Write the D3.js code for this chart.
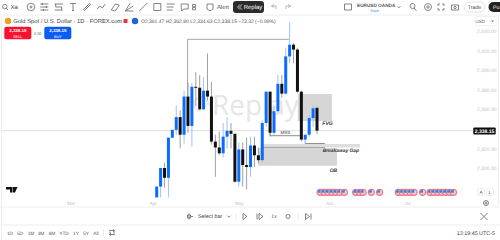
<!DOCTYPE html>
<html>
<head>
<meta charset="utf-8">
<script src="https://cdn.jsdelivr.net/npm/d3@7/dist/d3.min.js"></script>
<style>
html,body{margin:0;padding:0;background:#fff;overflow:hidden}
svg{display:block;font-family:"Liberation Sans",Arial,sans-serif;text-rendering:geometricPrecision}
</style>
</head>
<body>
<svg id="c" width="500" height="240"></svg>
<script>
// Daily gold spot bars
const opens  = [2270,2281,2300,2290,2331,2339,2352,2334,2373,2343,2383,2382,2360,2379,2373,2327,2321,2315,2332,2338,2335,2286,2319,2303,2301,2323,2313,2308,2346,2378,2336,2358,2386,2376,2414,2426,2421,2378,2329,2334,2351,2361.47];
const highs  = [2281,2300,2305,2331,2339,2364,2359,2379,2387,2387,2398,2395,2393,2417,2388,2334,2337,2346,2352,2346,2335,2326,2326,2331,2332,2332,2321,2349,2378,2378,2364,2395,2395,2423,2449,2428,2423,2379,2334,2354,2364,2362.80];
const lows   = [2270,2270,2280,2270,2331,2334,2320,2325,2336,2322,2363,2359,2359,2369,2324,2291,2313,2311,2320,2320,2285,2281,2281,2278,2291,2301,2305,2305,2342,2332,2334,2356,2372,2375,2407,2407,2377,2327,2325,2332,2342,2334.63];
const closes = [2281,2300,2290,2331,2339,2352,2334,2373,2343,2383,2382,2360,2379,2373,2327,2321,2315,2332,2338,2335,2286,2319,2303,2301,2323,2313,2308,2346,2378,2336,2358,2386,2376,2414,2426,2421,2378,2329,2334,2351,2361,2338.15];

const priceTicks = [2300,2320,2360,2380,2400,2420,2440];
const monthNames = ["Mar","Apr","May","Jun","Jul"];
const monthBars  = [-22,-1,21,44,64];
const eventBars  = [41.8,42.8,43.8,44.8,45.8,46.8,48,50.9,51.9,52.8,54.9,57,61.8,62.8,63.8,64.8,65.8,68,69.9,70.9,71.9,72.9,73.9,74.9,75.9];
const rangeLabels = ["1D","5D","1M","3M","6M","YTD","1Y","5Y","All"];

const svg = d3.select("#c");
const x = d3.scaleLinear().domain([0,41]).range([156.7,317]);
const y = d3.scaleLinear().domain([2300,2440]).range([168,31]);
const BLUE = "#0c6bff", BLACK = "#111", MUTED = "#bdbdbd";

// Zones beneath the bars: FVG, order block, breakaway gap
const zones = [
  {from:36.1,to:44.8,top:2375.6,bottom:2348,fill:"#d6d6d6"},
  {from:25.9,to:46.1,top:2320.4,bottom:2302.3,fill:"#d6d6d6"},
  {from:27,to:52,top:2324.5,bottom:2321,fill:"#dedede"}
];
svg.append("g").selectAll("rect").data(zones).join("rect")
  .attr("x",d=>x(d.from)).attr("width",d=>x(d.to)-x(d.from))
  .attr("y",d=>y(d.top)).attr("height",d=>y(d.bottom)-y(d.top))
  .attr("fill",d=>d.fill);

// Last-price line
svg.append("line").attr("x1",2).attr("x2",473).attr("y1",y(2338.15)).attr("y2",y(2338.15))
  .attr("stroke","#dedede").attr("stroke-width",1);

// Watermark
svg.append("path").attr("d","M201,111A7,7 0 1 1 208,105").attr("fill","none").attr("stroke","#ececec").attr("stroke-width",2);
svg.append("text").attr("x",212).attr("y",115).attr("font-size",28).attr("fill","#e6e6e6")
  .attr("font-family","'Open Sans',sans-serif").text("Replay");

// Structure lines
const levelPath = d3.line();
const structure = [
  {pts:[[7.9,2373],[7.9,2431.5],[33.9,2431.5]],c:"#a6a6a6"},
  {pts:[[29,2340],[29,2333],[37,2333]],c:"#8c8c8c"},
  {pts:[[38,2327],[38,2325],[43,2325]],c:"#8c8c8c"},
  {pts:[[27,2321],[43,2321]],c:"#a2a2a2"}
];
svg.append("g").selectAll("path").data(structure).join("path")
  .attr("fill","none").attr("stroke",d=>d.c).attr("stroke-width",1)
  .attr("d",d=>levelPath(d.pts.map(p=>[x(p[0]),y(p[1])])));

// Candles
const bars = d3.range(opens.length);
const colour = i => closes[i] >= opens[i] ? BLUE : BLACK;
const wickColour = i => closes[i] >= opens[i] ? "#9cc3ff" : "#a0a0a0";
const g = svg.append("g");
g.selectAll("line").data(bars).join("line")
  .attr("x1",x).attr("x2",x)
  .attr("y1",i=>y(highs[i])).attr("y2",i=>y(lows[i]))
  .attr("stroke",wickColour).attr("stroke-width",1);
g.selectAll("rect").data(bars).join("rect")
  .attr("x",i=>x(i)-1.5).attr("width",3)
  .attr("y",i=>y(Math.max(opens[i],closes[i])))
  .attr("height",i=>Math.max(1,Math.abs(y(opens[i])-y(closes[i]))))
  .attr("fill",colour);

// Annotations
const notes = [
  {t:"MSS",bar:32.9,p:2335,fs:4.5,w:"normal",s:"normal",c:"#444"},
  {t:"FVG",bar:43.7,p:2343.5,fs:5.2,w:"bold",s:"italic",c:"#333"},
  {t:"Breakaway Gap",bar:47.1,p:2316,fs:4.9,w:"bold",s:"italic",c:"#333"},
  {t:"OB",bar:45.2,p:2296,fs:5,w:"bold",s:"italic",c:"#333"}
];
svg.append("g").selectAll("text").data(notes).join("text")
  .attr("x",d=>x(d.bar)).attr("y",d=>y(d.p)).attr("text-anchor","middle")
  .attr("font-size",d=>d.fs).attr("font-weight",d=>d.w).attr("font-style",d=>d.s).attr("fill",d=>d.c)
  .text(d=>d.t);

// Price axis
const axisY = d3.axisRight(y).tickValues(priceTicks).tickSize(0).tickFormat(d3.format(",.2f"));
const ay = svg.append("g").attr("transform","translate(477,0)").call(axisY);
ay.select(".domain").remove();
ay.selectAll("text").attr("font-size",5).attr("fill",MUTED).attr("x",0).attr("dy","0.32em").attr("font-family","'Liberation Sans',sans-serif");
svg.append("line").attr("x1",498.5).attr("x2",498.5).attr("y1",16).attr("y2",205).attr("stroke","#eee");
svg.append("rect").attr("x",473.3).attr("y",127.5).attr("width",22.4).attr("height",7).attr("fill","#0e0e0e").attr("rx",1);
svg.append("text").attr("x",484.5).attr("y",132.8).attr("text-anchor","middle").attr("font-size",5).attr("font-weight","bold").attr("fill","#fff").text("2,338.15");
svg.append("text").attr("x",480).attr("y",23).attr("text-anchor","middle").attr("font-size",4.6).attr("fill","#666").text("USD");
svg.append("path").attr("d","M491,20.5h3l-1.5,1.8z").attr("fill","#777");
svg.append("rect").attr("x",475).attr("y",16.5).attr("width",22).attr("height",9).attr("rx",2).attr("fill","none").attr("stroke","#f0f0f0");

// Time axis
const timeAxis = d3.axisBottom(x).tickValues(monthBars).tickSize(0).tickFormat((d,i)=>monthNames[i]);
const at = svg.append("g").attr("transform","translate(0,198)").call(timeAxis);
at.select(".domain").remove();
at.selectAll("text").attr("font-size",4.6).attr("fill",MUTED).attr("dy",0).attr("y",6.5);

// Economic event markers
const ev = svg.append("g").selectAll("g").data(eventBars).join("g")
  .attr("transform",d=>`translate(${x(d)},192.3)`);
ev.append("circle").attr("r",3.6).attr("fill","#f2707f");
ev.append("circle").attr("r",2.5).attr("fill","#f6c9cf");
ev.append("path").attr("d","M-2.5,0.4A2.5,2.5 0 0 1 0.4,-2.5L0.4,0.4Z").attr("fill","#2d86e8");

// Top toolbar
svg.append("line").attr("x1",0).attr("x2",500).attr("y1",15).attr("y2",15).attr("stroke","#eee");
const icon = (cx,cy,d,c) => svg.append("path").attr("transform",`translate(${cx},${cy})`).attr("d",d)
  .attr("fill","none").attr("stroke",c||"#666").attr("stroke-width",0.8);
const toolIcons = [
  [31,"M3.8,0A3.8,3.8 0 1 1 -3.8,0A3.8,3.8 0 1 1 3.8,0M1,0A1,1 0 1 1 -1,0A1,1 0 1 1 1,0"],
  [44.3,"M-4,-3H4M-4,0H4M-4,3H4M-2,-4V-2M2,-1V1M-1,2V4"],
  [58.7,"M-4,-3H4M-4,3H4M-3,-3V0H3V3"],
  [73,"M-3,-3.5H3M0,-3.5V3.5M-1,3.5H1"],
  [87,"M-4,3L3,-4M-3,4L4,-3"],
  [101.3,"M-4,2L-1.5,-1L1,1L4,-3"],
  [115.3,"M-4,3L0,-3L4,-2L0,4Z"],
  [129.3,"M-4,4H4M-4,4L1,-4M-4,4L4,-1"],
  [143.3,"M-4,4L4,-4"],
  [157.3,"M-3.5,-3.5H3.5V3.5H-3.5Z"],
  [170.7,"M-4,-3H4M-4,0H3M-4,3H2"],
  [184.7,"M-3.5,-3H3.5V2H-1L-3,4V2H-3.5Z"],
  [194,"M-1.5,-2.5h3v2.2h-3zM-1.5,0.6h3v2.2h-3z"],
  [210,"M-3,-3H3V2L0,4L-3,2Z"],
  [348,"M-3.5,-3H3.5V3H-3.5Z"],
  [399,"M-1.5,-0.8L0,0.8L1.5,-0.8"],
  [413,"M2,-1A2.5,2.5 0 1 1 -3,-1A2.5,2.5 0 1 1 2,-1M1,1L3.5,3.8"],
  [428,"M3.5,0A3.5,3.5 0 1 1 -3.5,0A3.5,3.5 0 1 1 3.5,0M1.2,0A1.2,1.2 0 1 1 -1.2,0A1.2,1.2 0 1 1 1.2,0"],
  [441,"M-3,-1V-3H-1M1,-3H3V-1M3,1V3H1M-1,3H-3V1"],
  [455,"M-3.5,-2H3.5V3H-3.5ZM1.2,0.5A1.2,1.2 0 1 1 -1.2,0.5A1.2,1.2 0 1 1 1.2,0.5"],
  [274,"M-2.5,-1L0,-2.5M-2.5,-1L0,0.5M-2.5,-1H2V2"],
  [288,"M2.5,-1L0,-2.5M2.5,-1L0,0.5M2.5,-1H-2V2"]
];
toolIcons.forEach(([cx,d],i)=>icon(cx,7,d,i>19?"#aaa":"#666"));
icon(5,7,"M2,-0.5A2.2,2.2 0 1 1 -2.4,-0.5A2.2,2.2 0 1 1 2,-0.5M1.2,1.2L3,3");
svg.append("text").attr("x",10.5).attr("y",9).attr("font-size",6).attr("fill","#444").text("Xa");
svg.append("text").attr("x",217).attr("y",9).attr("font-size",5.8).attr("fill","#444").text("Alert");
svg.append("rect").attr("x",233).attr("y",1).attr("width",31).attr("height",12).attr("rx",3).attr("fill","#2b2b2b");
svg.append("text").attr("x",253).attr("y",9).attr("text-anchor","middle").attr("font-size",6).attr("fill","#fff").text("Replay");
icon(239,7,"M1,-2.5L-1.5,0L1,2.5M3,-2.5L0.5,0L3,2.5","#ddd");
svg.append("text").attr("x",357).attr("y",7).attr("font-size",4.7).attr("fill","#555").attr("font-weight","bold").text("EURUSD OANDA");
svg.append("text").attr("x",374.5).attr("y",11.5).attr("text-anchor","middle").attr("font-size",3.8).attr("fill","#3a86f5").text("Save");
svg.append("rect").attr("x",464).attr("y",2).attr("width",21).attr("height",10).attr("rx",5).attr("fill","#fff").attr("stroke","#e3e3e3");
svg.append("text").attr("x",474.5).attr("y",9).attr("text-anchor","middle").attr("font-size",5.2).attr("fill","#444").text("Trade");
svg.append("rect").attr("x",488.5).attr("y",2).attr("width",24).attr("height",10).attr("rx",5).attr("fill","#222");
svg.append("text").attr("x",493).attr("y",9).attr("font-size",5.2).attr("fill","#fff").text("Pu");

// Symbol legend
svg.append("circle").attr("cx",8).attr("cy",21).attr("r",3.2).attr("fill","#e9a11f");
svg.append("text").attr("x",13.3).attr("y",23.2).attr("font-size",5.8).attr("fill","#444").text("Gold Spot / U.S. Dollar · 1D · FOREX.com");
svg.append("rect").attr("x",123.5).attr("y",19).attr("width",4).attr("height",4).attr("fill","#e8323c");
svg.append("circle").attr("cx",135).attr("cy",21).attr("r",3.2).attr("fill","#1c62d8");
svg.append("text").attr("x",141).attr("y",23).attr("font-size",5).attr("fill","#555")
  .text("O2,361.47 H2,362.80 L2,334.63 C2,338.15 −23.32 (−0.99%)");

// Sell and buy buttons
svg.append("rect").attr("x",4.3).attr("y",26.7).attr("width",27).attr("height",12.6).attr("rx",2).attr("fill","#f5112f");
svg.append("text").attr("x",17.8).attr("y",32).attr("text-anchor","middle").attr("font-size",4.4).attr("font-weight","bold").attr("fill","#ffe").text("2,338.15");
svg.append("text").attr("x",17.8).attr("y",37.5).attr("text-anchor","middle").attr("font-size",3.8).attr("fill","#fff").text("SELL");
svg.append("text").attr("x",37.8).attr("y",34.5).attr("text-anchor","middle").attr("font-size",3.8).attr("fill","#666").text("0.00");
svg.append("rect").attr("x",44.3).attr("y",26.7).attr("width",27).attr("height",12.6).attr("rx",2).attr("fill","#0a5cf5");
svg.append("text").attr("x",57.8).attr("y",32).attr("text-anchor","middle").attr("font-size",4.4).attr("font-weight","bold").attr("fill","#fff").text("2,338.15");
svg.append("text").attr("x",57.8).attr("y",37.5).attr("text-anchor","middle").attr("font-size",3.8).attr("fill","#fff").text("BUY");

// Chart furniture
svg.append("path").attr("d","M6,187H12.5V192.5H10V189.5H6ZM13,187H17.5L15,192.5H13Z").attr("fill","#111");
svg.append("line").attr("x1",0).attr("x2",500).attr("y1",207).attr("y2",207).attr("stroke","#eee");
svg.append("line").attr("x1",0).attr("x2",500).attr("y1",225).attr("y2",225).attr("stroke","#eee");
svg.append("line").attr("x1",1.5).attr("x2",1.5).attr("y1",16).attr("y2",240).attr("stroke","#eee");
svg.append("text").attr("x",198).attr("y",218).attr("font-size",5.4).attr("fill","#444").text("Select bar");
svg.append("text").attr("x",274).attr("y",218).attr("text-anchor","middle").attr("font-size",5).attr("fill","#555").text("1x");
[[190,"M-1,-3V3M-2.5,-1.5H0.5V1.5H-2.5ZM1,0H3"],[229,"M-1.5,-0.8L0,0.8L1.5,-0.8"],[245,"M-2,-3L2,0L-2,3Z"],
 [260,"M-3,-3V3M-1,-3L3,0L-1,3Z"],[288,"M2,0A2,2 0 1 1 -2,0A2,2 0 1 1 2,0"],[308,"M-2.5,-3L1.5,0L-2.5,3ZM3,-3V3"],
 [484,"M-3.5,-3.5L3.5,3.5M3.5,-3.5L-3.5,3.5"]].forEach(([cx,d])=>icon(cx,216.5,d));
[[236,"M0,-3.5V3.5"],[298,"M0,-3.5V3.5"]].forEach(([cx,d])=>icon(cx,216.5,d,"#e6e6e6"));
svg.append("text").attr("x",495).attr("y",234.5).attr("text-anchor","end").attr("font-size",5.4).attr("fill","#444").text("13:19:45 UTC-5");
const rangeX = [10,20,31,41,52,64,76,86,96];
svg.append("g").selectAll("text").data(rangeLabels).join("text")
  .attr("x",(d,i)=>rangeX[i]).attr("y",234.5).attr("text-anchor","middle").attr("font-size",4.8).attr("fill","#555").text(d=>d);
icon(103.5,232.5,"M0,-3.5V3.5","#e6e6e6");
icon(112,232.5,"M-3,-2H2V1M3,2H-2V-1M1,-3.2L2.5,-2L1,-0.8M-1,0.8L-2.5,2L-1,3.2");
[["A",481],["L",490]].forEach(([t,cx])=>{
  svg.append("rect").attr("x",cx-3.5).attr("y",188.5).attr("width",7).attr("height",7).attr("rx",1.5).attr("fill","#fff").attr("stroke","#eee");
  svg.append("text").attr("x",cx).attr("y",193.8).attr("text-anchor","middle").attr("font-size",4.6).attr("fill","#444").text(t);
});
icon(486,203,"M2.5,0A2.5,2.5 0 1 1 -2.5,0A2.5,2.5 0 1 1 2.5,0M1,0A1,1 0 1 1 -1,0A1,1 0 1 1 1,0");
</script>
</body>
</html>
